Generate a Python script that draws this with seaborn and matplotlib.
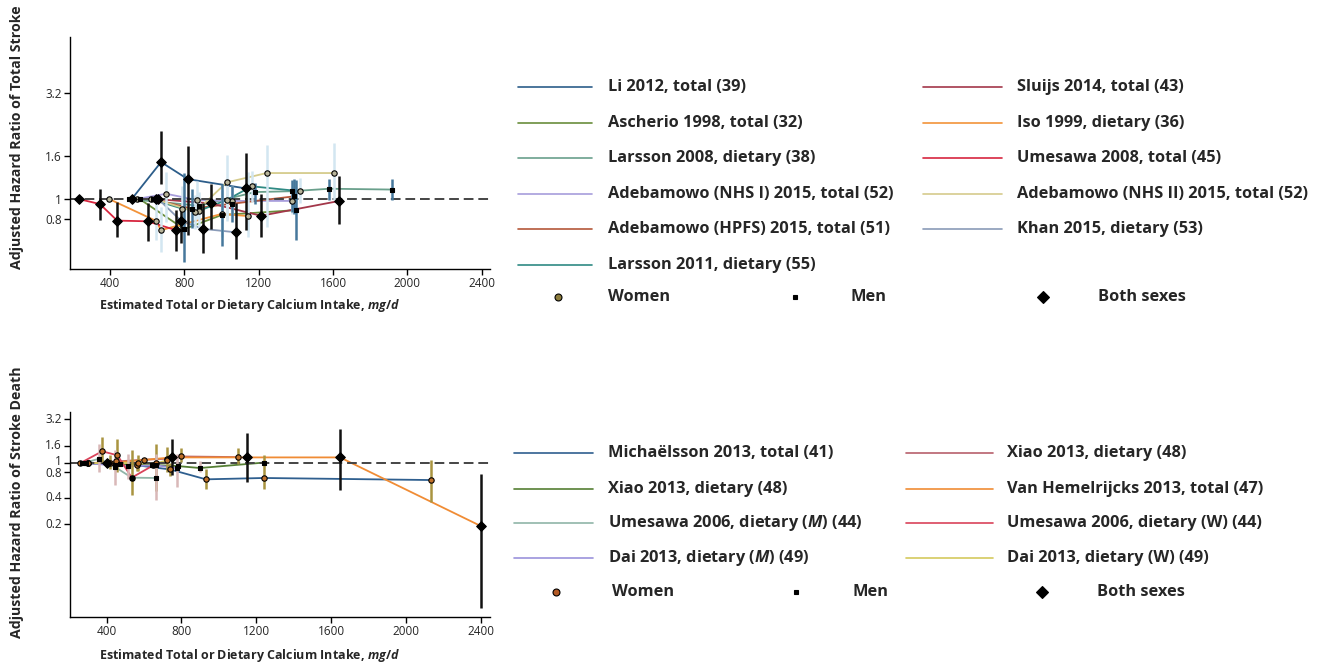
import numpy as np
import pandas as pd
import matplotlib
matplotlib.use("Agg")
import matplotlib.pyplot as plt
from matplotlib.lines import Line2D
from matplotlib.ticker import FixedLocator, FixedFormatter, NullLocator
import seaborn as sns

nan = np.nan

# ---- panel 1: total stroke ----
TOP_STUDIES = ["Li 2012, total (39)", "Ascherio 1998, total (32)", "Larsson 2008, dietary (38)",
               "Adebamowo (NHS I) 2015, total (52)", "Adebamowo (HPFS) 2015, total (51)",
               "Larsson 2011, dietary (55)", "Sluijs 2014, total (43)", "Iso 1999, dietary (36)",
               "Umesawa 2008, total (45)", "Adebamowo (NHS II) 2015, total (52)", "Khan 2015, dietary (53)"]
TOP_COLORS = ["#2c5d8a", "#6a8e3c", "#6aa08c", "#a79ddb", "#b4573a", "#2f8a84",
              "#a3374a", "#f2933a", "#d7263f", "#d5cb8c", "#8a9bb8"]
TOP_SEX = ["both", "men", "men", "women", "men", "women", "both", "women", "both", "women", "both"]
TOP_X = [[517, 675, 818, 1130],
         [560, 800, 1001, 1400],
         [500, 880, 1181, 1378, 1581, 1917],
         [544, 702, 867, 1055, 1378],
         [633, 840, 1055, 1390],
         [620, 790, 880, 1028, 1163, 1423],
         [650, 942, 1213, 1635],
         [396, 646, 675, 1001, 1145],
         [233, 346, 439, 603, 754],
         [640, 860, 1028, 1243, 1606],
         [660, 782, 899, 1077]]
TOP_Y = [[1.0, 1.50, 1.245, 1.124],
         [1.0, 0.72, 0.84, 0.886],
         [1.0, 0.93, 1.08, 1.09, 1.12, 1.11],
         [1.0, 1.06, 0.99, 0.98, 0.98],
         [1.0, 0.90, 0.95, 1.03],
         [1.0, 0.90, 0.88, 0.99, 1.15, 1.09],
         [1.0, 0.954, 0.833, 0.98],
         [1.0, 0.789, 0.712, 0.85, 0.83],
         [1.0, 0.947, 0.79, 0.784, 0.712],
         [1.0, 0.87, 1.20, 1.33, 1.33],
         [1.0, 0.789, 0.722, 0.695]]
TOP_LO = [[nan, 1.18, 0.674, 0.71],
          [nan, 0.50, 0.60, 0.64],
          [nan, nan, 0.95, 0.87, 0.99, 0.99],
          [nan, 0.78, 0.80, 0.84, 0.85],
          [nan, 0.73, 0.78, 0.85],
          [nan, 0.70, 0.72, 0.80, 0.97, 0.96],
          [nan, 0.72, 0.66, 0.76],
          [nan, 0.64, 0.56, 0.66, 0.66],
          [nan, 0.795, 0.657, 0.634, 0.568],
          [nan, 0.72, 0.79, 0.74, 0.99],
          [nan, 0.616, 0.556, 0.52]]
TOP_HI = [[nan, 2.10, 1.79, 1.65],
          [nan, 1.33, 1.18, 1.23],
          [nan, nan, 1.19, 1.23, 1.25, 1.25],
          [nan, 1.35, 1.22, 1.16, 1.13],
          [nan, 1.12, 1.16, 1.24],
          [nan, 1.15, 1.08, 1.22, 1.36, 1.26],
          [nan, 1.18, 1.06, 1.29],
          [nan, 0.97, 0.92, 1.10, 1.35],
          [nan, 1.12, 0.965, 0.954, 0.886],
          [nan, 1.05, 1.62, 1.80, 1.85],
          [nan, 0.886, 0.954, 0.954]]

# ---- panel 2: stroke death ----
BOT_STUDIES = ["Michaëlsson 2013, total (41)", "Xiao 2013, dietary (48)",
               "Umesawa 2006, dietary ($\\mathit{M}$) (44)", "Dai 2013, dietary ($\\mathit{M}$) (49)",
               "Xiao 2013, dietary (48)", "Van Hemelrijcks 2013, total (47)",
               "Umesawa 2006, dietary (W) (44)", "Dai 2013, dietary (W) (49)"]
BOT_COLORS = ["#2f5f8f", "#557f34", "#90b5a8", "#9b92dc", "#b8606c", "#f08c35", "#d9435a", "#d4c95e"]
BOT_SEX = ["women", "men", "men", "men", "women", "both", "women", "women"]
BOT_X = [[300, 560, 740, 931, 1241, 2134],
         [290, 470, 640, 780, 899, 1241],
         [270, 360, 444, 534, 664],
         [290, 444, 515, 664, 774],
         [300, 450, 600, 724, 797, 1100],
         [400, 748, 1149, 1648, 2400],
         [257, 376, 458, 534, 650],
         [300, 420, 569, 664, 724]]
BOT_Y = [[1.0, 0.95, 0.85, 0.654, 0.678, 0.642],
         [1.0, 0.97, 0.96, 0.93, 0.883, 1.02],
         [1.0, 1.13, 0.91, 0.684, 0.678],
         [1.0, 0.95, 0.93, 0.95, 0.88],
         [1.0, 1.05, 1.10, 1.13, 1.20, 1.18],
         [1.0, 1.17, 1.17, 1.17, 0.19],
         [1.0, 1.376, 1.237, 0.684, 0.95],
         [1.0, 1.02, 1.0, 1.0, 1.08]]
BOT_LO = [[nan, 0.82, 0.72, 0.50, 0.51, 0.36],
          [nan, nan, nan, nan, 0.80, nan],
          [nan, 0.795, nan, nan, nan],
          [nan, 0.558, 0.666, 0.374, 0.533],
          [nan, nan, nan, 0.795, 1.035, 0.99],
          [nan, 0.727, 0.609, 0.497, 0.0216],
          [nan, 1.035, 0.795, 0.43, nan],
          [nan, 0.85, 0.82, 0.48, nan]]
BOT_HI = [[nan, 1.10, 1.00, 0.87, 1.24, 1.08],
          [nan, nan, nan, nan, 1.07, nan],
          [nan, 1.69, nan, nan, nan],
          [nan, 1.41, 1.29, 1.29, 1.29],
          [nan, nan, nan, 1.56, 1.50, 1.50],
          [nan, 1.93, 2.24, 2.47, 0.762],
          [nan, 2.0, 1.93, 1.41, nan],
          [nan, 1.25, 1.25, 1.69, nan]]

X_TICKS = [400, 800, 1200, 1600, 2000, 2400]
TOP_YTICKS = [0.8, 1, 1.6, 3.2]
BOT_YTICKS = [0.2, 0.4, 0.8, 1, 1.6, 3.2]

sns.set_style("white")
plt.rcParams["font.family"] = ["Open Sans", "DejaVu Sans"]
plt.rcParams["mathtext.fontset"] = "custom"
plt.rcParams["mathtext.it"] = "Open Sans:italic:bold"
plt.rcParams["mathtext.rm"] = "Open Sans:bold"
plt.rcParams["mathtext.bf"] = "Open Sans:bold"

W, H = 1337, 665
fig = plt.figure(figsize=(W / 100, H / 100), dpi=100)
ax1 = fig.add_axes([70 / W, 1 - 269 / H, 420 / W, 232 / H])
ax2 = fig.add_axes([70 / W, 1 - 617 / H, 420 / W, 205 / H])

MARK = {"women": "o", "men": "s", "both": "D"}
MSIZE = {"women": 15, "men": 10, "both": 24}


def draw_panel(ax, studies, colors, sexes, xs, ys, los, his, err_col, women_face):
    rows = []
    for i, (sex, x, y, lo, hi) in enumerate(zip(sexes, xs, ys, los, his)):
        for a, b, c, d in zip(x, y, lo, hi):
            rows.append({"sid": i, "sex": sex, "x": a, "y": b, "lo": c, "hi": d})
    df = pd.DataFrame(rows)
    ax.set_yscale("log")
    sns.lineplot(data=df, x="x", y="y", hue="sid", palette=dict(enumerate(colors)),
                 estimator=None, sort=False, legend=False, lw=1.3, ax=ax, zorder=2)
    ax.axhline(1, color="#444444", ls=(0, (5, 2.5)), lw=1.4, zorder=2.5)
    for sex in ["women", "men", "both"]:
        sub = df[(df.sex == sex) & df.lo.notna()]
        ax.vlines(sub.x, sub.lo, sub.hi, color=err_col[sex], lw=1.8, zorder=3)
    for sex in ["women", "men", "both"]:
        sub = df[df.sex == sex]
        face = women_face if sex == "women" else "black"
        sns.scatterplot(data=sub, x="x", y="y", marker=MARK[sex], s=MSIZE[sex],
                        color=face, edgecolor="black", linewidth=0.8, ax=ax, zorder=4)


draw_panel(ax1, TOP_STUDIES, TOP_COLORS, TOP_SEX, TOP_X, TOP_Y, TOP_LO, TOP_HI,
           {"women": "#d3e6f1", "men": "#46789c", "both": "#111111"}, "#b8b49a")
draw_panel(ax2, BOT_STUDIES, BOT_COLORS, BOT_SEX, BOT_X, BOT_Y, BOT_LO, BOT_HI,
           {"women": "#a99440", "men": "#d9b8b8", "both": "#111111"}, "#c0702a")

for ax, yt, xl, yl in [(ax1, TOP_YTICKS, (185, 2445), (0.465, 5.9)),
                       (ax2, BOT_YTICKS, (204, 2450), (0.017, 3.9))]:
    ax.set_xlim(*xl)
    ax.set_ylim(*yl)
    ax.set_xticks(X_TICKS)
    ax.set_xticklabels([str(t) for t in X_TICKS])
    ax.yaxis.set_major_locator(FixedLocator(yt))
    ax.yaxis.set_major_formatter(FixedFormatter([f"{t:g}" for t in yt]))
    ax.yaxis.set_minor_locator(NullLocator())
    ax.set_xlabel("")
    ax.set_ylabel("")
    for s in ["top", "right"]:
        ax.spines[s].set_visible(False)
    for s in ["left", "bottom"]:
        ax.spines[s].set_color("black")
        ax.spines[s].set_linewidth(1.0)
    ax.tick_params(axis="both", which="major", direction="out", length=4, width=1,
                   color="black", labelsize=8.5, pad=2, left=True, bottom=True)

# the "1" and "0.8" labels of the lower panel sit very close: nudge them apart a little
for lab, dy in zip(ax2.get_yticklabels(), [0, 0, -1.5, 2, 0, 0]):
    lab.set_va("center")
    lab.set_y(lab.get_position()[1])
    if dy:
        lab.set_transform(lab.get_transform() + matplotlib.transforms.ScaledTranslation(0, dy / 100, fig.dpi_scale_trans))

xlab = "Estimated Total or Dietary Calcium Intake, $\\mathit{mg/d}$"
fig.text(250 / W, 1 - 305 / H, xlab, ha="center", va="center", fontsize=9, weight="bold")
fig.text(250 / W, 1 - 655 / H, xlab, ha="center", va="center", fontsize=9, weight="bold")
fig.text(17 / W, 1 - 137 / H, "Adjusted Hazard Ratio of Total Stroke", rotation=90,
         ha="center", va="center", fontsize=10.2, weight="bold")
fig.text(17 / W, 1 - 502 / H, "Adjusted Hazard Ratio of Stroke Death", rotation=90,
         ha="center", va="center", fontsize=10.2, weight="bold")

LEG_FS = 11.8


def leg_line(x0, x1, y, color, label, tx):
    fig.add_artist(Line2D([x0 / W, x1 / W], [1 - y / H, 1 - y / H], transform=fig.transFigure,
                          color=color, lw=1.2))
    fig.text(tx / W, 1 - y / H, label, ha="left", va="center", fontsize=LEG_FS, weight="bold")


def leg_marker(x, y, sex, face, label, tx):
    sz = {"women": 5, "men": 3.5, "both": 6}[sex]
    fig.add_artist(Line2D([x / W], [1 - y / H], transform=fig.transFigure, ls="none",
                          marker=MARK[sex], ms=sz, mfc=face if sex == "women" else "black",
                          mec="black", mew=0.8))
    fig.text(tx / W, 1 - y / H, label, ha="left", va="center", fontsize=LEG_FS, weight="bold")


top_rows = [87, 123, 158, 194, 229, 265]
for r, k in zip(top_rows, [0, 1, 2, 3, 4, 5]):
    leg_line(518, 592, r, TOP_COLORS[k], TOP_STUDIES[k], 608)
for r, k in zip(top_rows, [6, 7, 8, 9, 10]):
    leg_line(923, 1002, r, TOP_COLORS[k], TOP_STUDIES[k], 1017)
leg_marker(558, 297, "women", "#8c7c3c", "Women", 608)
leg_marker(795, 297, "men", "black", "Men", 850)
leg_marker(1043, 297, "both", "black", "Both sexes", 1098)

bot_rows = [453, 489, 523, 558]
for r, k in zip(bot_rows, [0, 1, 2, 3]):
    leg_line(514, 593, r, BOT_COLORS[k], BOT_STUDIES[k], 608)
for r, k in zip(bot_rows, [4, 5, 6, 7]):
    leg_line(906, 993, r, BOT_COLORS[k], BOT_STUDIES[k], 1007)
leg_marker(556, 592, "women", "#b35a25", "Women", 612)
leg_marker(796, 592, "men", "black", "Men", 852)
leg_marker(1042, 592, "both", "black", "Both sexes", 1097)

fig.savefig("out.png", dpi=100)
